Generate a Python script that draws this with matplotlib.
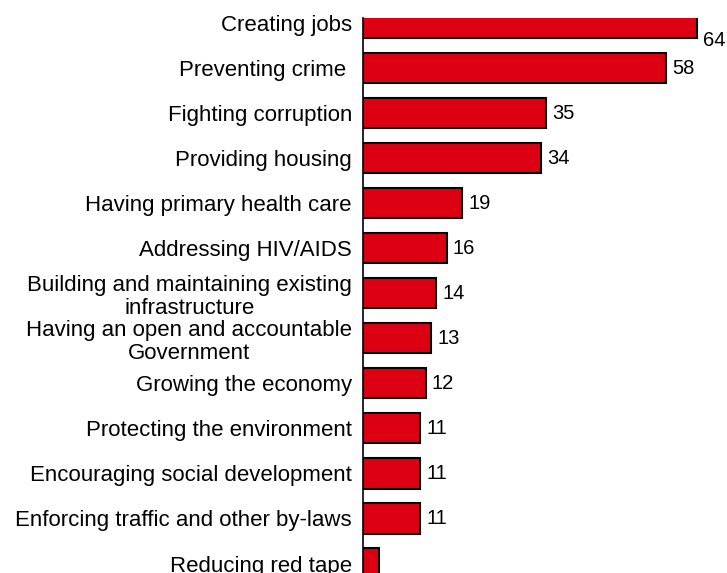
import matplotlib.pyplot as plt

plt.rcParams["font.family"] = ["Liberation Sans", "DejaVu Sans"]

# survey priorities, % of respondents
categories = [
    "Creating jobs",
    "Preventing crime ",
    "Fighting corruption",
    "Providing housing",
    "Having primary health care",
    "Addressing HIV/AIDS",
    "Building and maintaining existing\ninfrastructure",
    "Having an open and accountable\nGovernment",
    "Growing the economy",
    "Protecting the environment",
    "Encouraging social development",
    "Enforcing traffic and other by-laws",
    "Reducing red tape",
]
values = [64, 58, 35, 34, 19, 16, 14, 13, 12, 11, 11, 11, 3]
shown_labels = [str(v) for v in values[:-1]]

fig = plt.figure(figsize=(7.27, 5.73), dpi=100)
ax = fig.add_axes([363 / 727, 0.0, 355 / 727, 555 / 573])

pos = list(range(len(categories)))
ax.barh(pos, values, height=0.67, color="#DC0012", edgecolor="black", linewidth=1.5)

# value labels to the right of each bar (top one nudged down)
for i, txt in enumerate(shown_labels):
    dy = 0.38 if i == 0 else 0.0
    ax.text(values[i] + 1.2, i + dy, txt, va="center", ha="left", fontsize=14.5)

ax.set_xlim(0, 68)
ax.set_ylim(12.21, -0.11)
ax.set_yticks(pos)
ax.set_yticklabels(categories, fontsize=16, multialignment="center",
                   linespacing=1.15)
ax.tick_params(axis="y", length=0, pad=8)
ax.set_xticks([])

for side in ["top", "right", "bottom"]:
    ax.spines[side].set_visible(False)
ax.spines["left"].set_linewidth(1.2)

fig.savefig("out.png", dpi=100)
